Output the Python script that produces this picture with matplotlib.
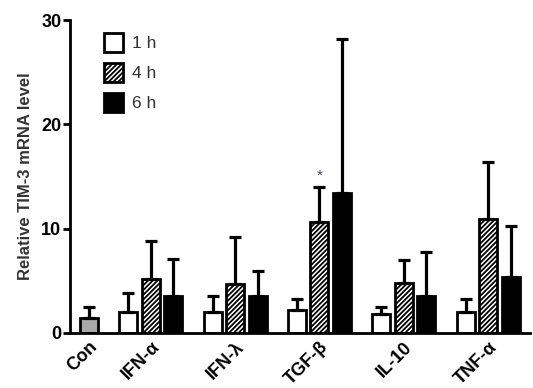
import matplotlib.pyplot as plt
import numpy as np

plt.rcParams['font.family'] = ['Liberation Sans', 'DejaVu Sans']
plt.rcParams['hatch.color'] = '#444444'
plt.rcParams['hatch.linewidth'] = 1.3

# data
groups = ['IFN-α', 'IFN-λ', 'TGF-β', 'IL-10', 'TNF-α']
con_mean = 1.4
con_err = 1.1
h1_mean = [2.0, 2.0, 2.2, 1.8, 2.0]
h1_err = [1.8, 1.5, 1.1, 0.7, 1.3]
h4_mean = [5.2, 4.7, 10.6, 4.8, 10.9]
h4_err = [3.6, 4.5, 3.4, 2.2, 5.5]
h6_mean = [3.5, 3.5, 13.4, 3.5, 5.4]
h6_err = [3.6, 2.4, 14.8, 4.3, 4.9]
series_labels = ['1 h', '4 h', '6 h']

fig = plt.figure(figsize=(5.33, 3.88), dpi=100)
ax = fig.add_axes([0.131, 0.142, 0.863, 0.806])

width = 0.8
gap = 1.75
base = gap + np.arange(len(groups)) * (3 + gap - 1)
x1 = base
x4 = base + 1
x6 = base + 2

ekw = dict(elinewidth=2.3, capthick=2.3, ecolor='black')
lw = 2.0

ax.bar(0, con_mean, width, color='#a8a8a8', edgecolor='black', linewidth=lw,
       yerr=[[0], [con_err]], capsize=4, error_kw=ekw)
ax.bar(x1, h1_mean, width, color='white', edgecolor='black', linewidth=lw,
       yerr=[np.zeros(5), h1_err], capsize=4, error_kw=ekw, label=series_labels[0])
ax.bar(x4, h4_mean, width, color='white', edgecolor='black', linewidth=lw,
       hatch='///////', yerr=[np.zeros(5), h4_err], capsize=4, error_kw=ekw,
       label=series_labels[1])
ax.bar(x6, h6_mean, width, color='black', edgecolor='black', linewidth=lw,
       yerr=[np.zeros(5), h6_err], capsize=4, error_kw=ekw, label=series_labels[2])

# significance mark on TGF-β 4 h
ax.text(x4[2], h4_mean[2] + h4_err[2] + 0.4, '*', ha='center', va='bottom',
        fontsize=11, color='#4a4a6a')

ax.set_xlim(-0.85, x6[-1] + 0.85)
ax.set_ylim(0, 30)
ax.set_yticks([0, 10, 20, 30])
ax.set_xticks(np.concatenate([[0], x4]))
ax.set_xticklabels(['Con'] + groups, rotation=45, ha='right',
                   rotation_mode='anchor', fontweight='bold', fontsize=13)
for t in ax.get_yticklabels():
    t.set_fontweight('bold')
    t.set_fontsize(13)
ax.tick_params(axis='y', width=2, length=5, pad=1)
ax.tick_params(axis='x', length=0, pad=4)
ax.spines['top'].set_visible(False)
ax.spines['right'].set_visible(False)
ax.spines['left'].set_linewidth(2)
ax.spines['bottom'].set_linewidth(2)
ax.set_ylabel('Relative TIM-3 mRNA level', fontsize=12, fontweight='bold',
              color='#333333', labelpad=6)

leg = ax.legend(loc='upper left', bbox_to_anchor=(0.04, 1.01), frameon=False,
                fontsize=12.5, handlelength=1.1, handleheight=1.3,
                handletextpad=0.55, labelspacing=0.65)
for t in leg.get_texts():
    t.set_color('#333333')

fig.savefig('out.png', dpi=100)
